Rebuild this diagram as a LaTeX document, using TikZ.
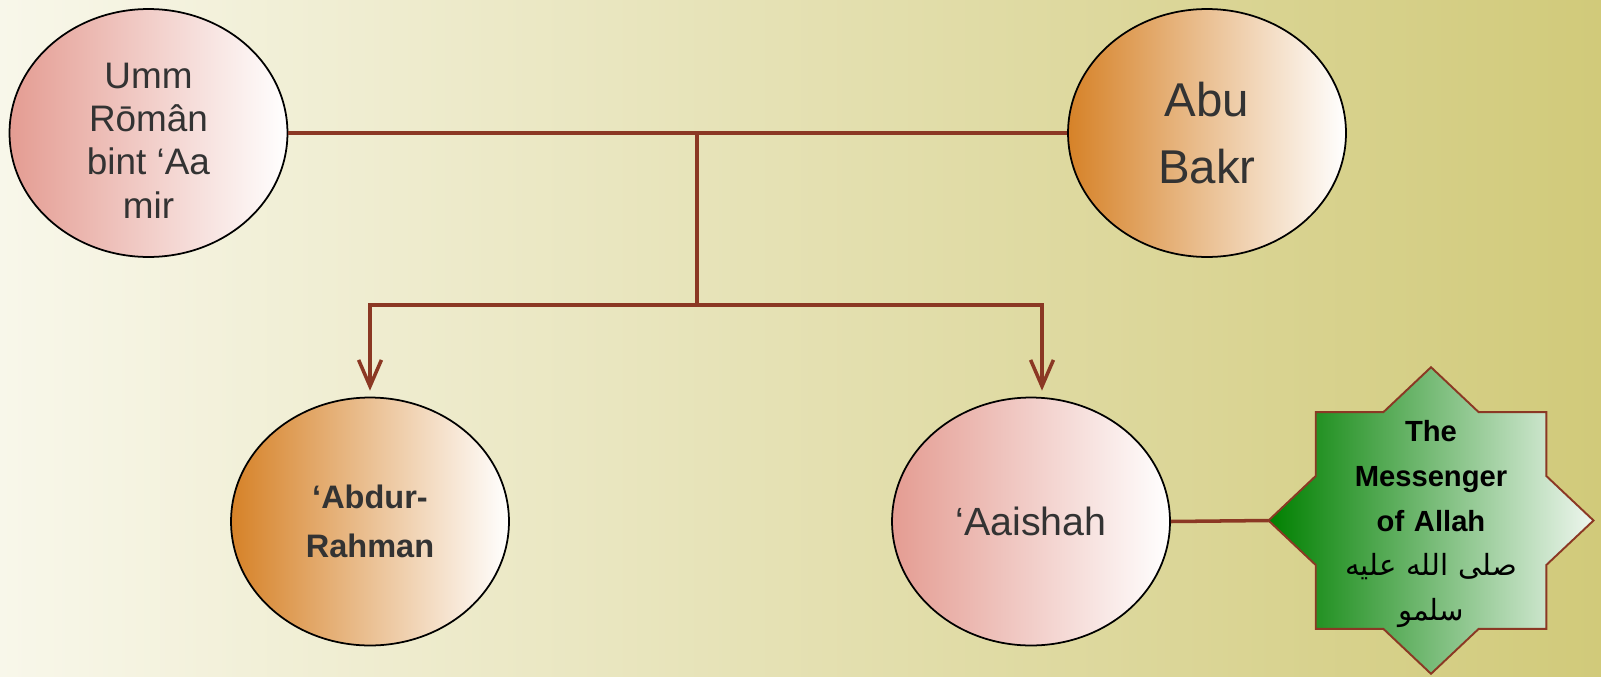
\documentclass[tikz,border=0pt]{standalone}
\usepackage{fontspec}
\setmainfont{Liberation Sans}
\newfontfamily\arabicfont[Script=Arabic]{DejaVu Sans}
\TeXXeTstate=1
\usetikzlibrary{shapes.geometric,arrows.meta}
\definecolor{bgleft}{RGB}{248,247,234}
\definecolor{bgright}{RGB}{209,202,122}
\definecolor{pinkleft}{RGB}{228,156,146}
\definecolor{orangeleft}{RGB}{214,130,40}
\definecolor{greenleft}{RGB}{0,128,0}
\definecolor{greenright}{RGB}{238,246,238}
\definecolor{linkbrown}{RGB}{139,56,36}
\definecolor{textgrey}{RGB}{51,51,51}
\begin{document}
\begin{tikzpicture}[x=0.02cm, y=-0.02cm,
		ball/.style={ellipse, draw=black, line width=1pt, minimum width=5.56cm, minimum height=4.96cm, inner sep=0pt, align=center, text=textgrey},
		pinkball/.style={ball, left color=pinkleft, right color=white},
		orangeball/.style={ball, left color=orangeleft, right color=white},
		link/.style={draw=linkbrown, line width=2pt},
		childarrow/.style={link, -{Straight Barb[length=15pt, width=13pt]}, shorten >=3.4pt}]
			\shade[left color=bgleft, right color=bgright] (0,0) rectangle (1601,676);
			\node[pinkball, font=\fontsize{21}{24.6}\selectfont] (umm) at (148.5,133) {\rule{0pt}{23pt}Umm\\Rōmân\\bint ‘Aa\\mir};
			\node[orangeball, font=\fontsize{27}{37.8}\selectfont] (abu) at (1207,133) {Abu\\Bakr};
			\node[orangeball, font=\fontsize{18.5}{28.3}\selectfont\bfseries] (abdur) at (370,521.5) {‘Abdur-\\Rahman};
			\node[pinkball, font=\fontsize{22.4}{26}\selectfont] (aaishah) at (1031,521.5) {‘Aaishah};
			\draw[draw=linkbrown, line width=1.1pt, left color=greenleft, right color=greenright] (1431,367.2) -- (1478.7,412.2) -- (1546.3,412.2) -- (1546.3,476) -- (1593.5,520.5) -- (1546.3,565) -- (1546.3,628.8) -- (1478.7,628.8) -- (1431,673.8) -- (1383.3,628.8) -- (1315.7,628.8) -- (1315.7,565) -- (1268.5,520.5) -- (1315.7,476) -- (1315.7,412.2) -- (1383.3,412.2) -- cycle;
			\coordinate (star-w) at (1268.5,520.5);
			\node[text width=5cm, align=center, font=\fontsize{16.6}{25.5}\selectfont\bfseries] (prophet) at (1431,524) {The\\Messenger\\of Allah\\{\normalfont\arabicfont\beginR صلى الله عليه\endR}\\{\normalfont\arabicfont\beginR سلمو\endR}};
			\coordinate (join) at (697,133);
			\coordinate (split) at (697,305);
			\draw[link] (umm.east) -- (abu.west);
			\draw[link] (join) -- (split);
			\draw[childarrow] (split) -| (abdur.north);
			\draw[childarrow] (split) -| ([xshift=0.22cm]aaishah.north);
			\draw[link] (aaishah.east) -- (star-w);
		\end{tikzpicture}
\end{document}
